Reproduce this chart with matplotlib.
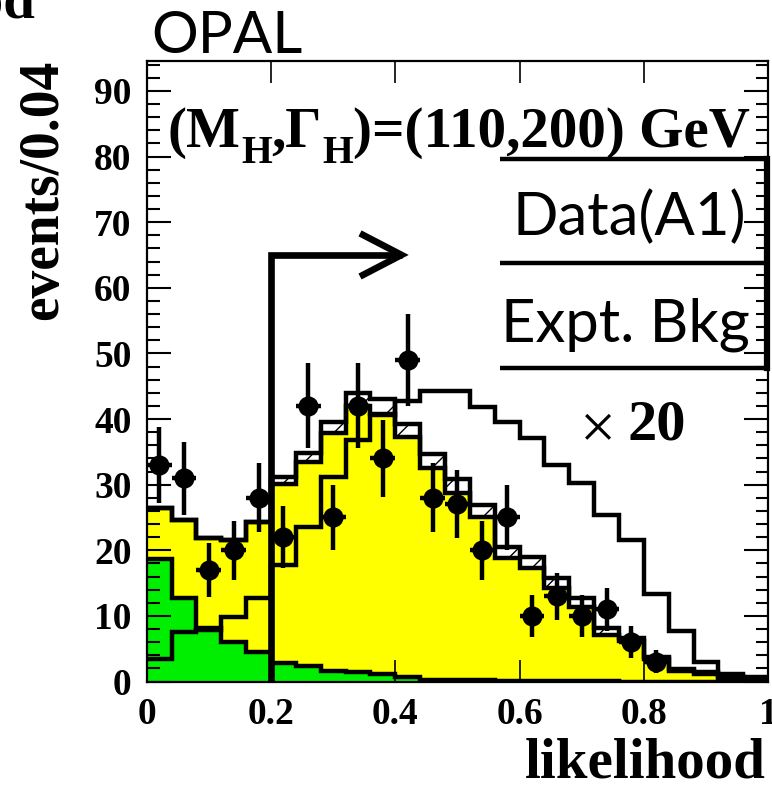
import numpy as np
import matplotlib
matplotlib.use('Agg')
import matplotlib.pyplot as plt
from matplotlib.ticker import MultipleLocator

# histogram binning (likelihood, 25 bins of 0.04)
edges = np.linspace(0.0, 1.0, 26)

# background components (events / 0.04), stacked bottom to top
green = np.array([18.7, 12.7, 8.2, 6.0, 4.5, 2.8, 2.3, 1.6, 1.5, 1.2, 0.7, 0.3, 0.2,
                  0.2, 0.1, 0.1, 0.1, 0.1, 0.1, 0.0, 0.0, 0.0, 0.0, 0.0, 0.0])
yellow = np.array([7.8, 11.9, 13.6, 15.6, 19.8, 27.3, 31.2, 36.3, 40.5, 39.6, 36.5, 32.3, 28.5,
                   24.8, 18.7, 17.2, 14.1, 11.2, 7.0, 6.1, 3.4, 1.6, 1.2, 0.6, 0.4])
hatched = np.array([0.0, 0.0, 0.0, 0.0, 0.0, 1.0, 1.3, 1.7, 2.0, 2.3, 2.0, 2.0, 2.1,
                    1.9, 1.7, 1.7, 1.5, 1.4, 1.0, 0.5, 0.4, 0.3, 0.3, 0.3, 0.2])

# signal (MH, GammaH) = (110, 200) GeV, scaled x20
signal_x20 = np.array([3.5, 7.5, 7.8, 9.8, 12.8, 17.8, 23.5, 31.2, 36.8, 40.6, 42.7, 44.2, 44.2,
                       41.9, 39.6, 37.1, 33.0, 30.2, 25.4, 21.6, 13.4, 7.7, 2.9, 1.1, 0.7])

# observed data (A1)
data = np.array([33, 31, 17, 20, 28, 22, 42, 25, 42, 34, 49, 28, 27,
                 20, 25, 10, 13, 10, 11, 6, 3, 0, 0, 0, 0])

# cut on the likelihood, arrow
cut = 0.2
arrow_y = 65
arrow_end = 0.41

x_ticks = [0, 0.2, 0.4, 0.6, 0.8, 1]
x_ticklabels = ['0', '0.2', '0.4', '0.6', '0.8', '1']

plt.rcParams['font.family'] = ['Liberation Serif', 'DejaVu Serif']
plt.rcParams['font.weight'] = 'bold'
plt.rcParams['hatch.linewidth'] = 1.0

W, H = 772, 787
fig = plt.figure(figsize=(W / 100, H / 100), dpi=100)
ax = fig.add_axes([146.7 / W, 1 - 681.5 / H, 621.5 / W, 620.8 / H])

yg = green
yy = green + yellow
yt = green + yellow + hatched
centers = 0.5 * (edges[:-1] + edges[1:])

# filled stack
ax.stairs(yg, edges, baseline=0, fill=True, color='#00ee00', lw=0)
ax.stairs(yy, edges, baseline=yg, fill=True, color='#ffff00', lw=0)
ax.stairs(yt, edges, baseline=yy, fill=True, facecolor='white', edgecolor='black',
          hatch='/', lw=0)

# outlines
lw_h = 3.2
for top in (yg, yy, yt):
    ax.stairs(top, edges, baseline=None, color='black', lw=lw_h)
ax.stairs(signal_x20, edges, baseline=None, color='black', lw=lw_h)

# cut + arrow
ax.plot([cut, cut, arrow_end], [0, arrow_y, arrow_y], color='black', lw=4.8,
        solid_joinstyle='miter', solid_capstyle='butt')
ax.plot([arrow_end - 0.062, arrow_end, arrow_end - 0.062],
        [arrow_y + 3.05, arrow_y, arrow_y - 3.05], color='black', lw=4.8,
        solid_joinstyle='miter')

# data
m = data > 0
ax.errorbar(centers[m], data[m], yerr=np.sqrt(data[m]), xerr=0.02, fmt='o',
            color='black', ms=13.5, elinewidth=3.2, capsize=0, zorder=6)

ax.set_xlim(0, 1)
ax.set_ylim(0, 94.6)
ax.set_xticks(x_ticks)
ax.set_xticklabels(x_ticklabels)
ax.yaxis.set_major_locator(MultipleLocator(10))
ax.yaxis.set_minor_locator(MultipleLocator(2))
ax.tick_params(which='both', direction='in', top=True, right=True,
               labelsize=27)
ax.tick_params(axis='y', which='major', length=17, width=1.5, pad=11)
ax.tick_params(axis='y', which='minor', length=9, width=1.5)
ax.tick_params(axis='x', which='major', length=16, width=1.2, pad=11)
for s in ax.spines.values():
    s.set_linewidth(1.6)
    s.set_zorder(10)

# legend box
lx0 = (500 - 146.7) / 621.5
for yl in (0.8417, 0.6741, 0.5050):
    ax.plot([lx0, 1.0], [yl, yl], transform=ax.transAxes, clip_on=False,
            color='black', lw=3.2, solid_capstyle='butt')
ax.plot([0.998, 0.998], [0.5050, 0.8417], transform=ax.transAxes, clip_on=False,
        color='black', lw=4.5)

sans = ['Lato', 'DejaVu Sans']
fig.text(746 / W, 1 - 235 / H, 'Data(A1)', family=sans, weight='normal',
         fontsize=43, ha='right', va='baseline')
fig.text(750 / W, 1 - 342 / H, 'Expt. Bkg', family=sans, weight='normal',
         fontsize=43, ha='right', va='baseline')
fig.text(598 / W, 1 - 432 / H, '\u00d7', weight='normal', fontsize=46,
         ha='center', va='center')
fig.text(627 / W, 1 - 440 / H, '20', fontsize=42, ha='left', va='baseline')

# labels
fig.text(151 / W, 1 - 53 / H, 'OPAL', family=sans, weight='normal', fontsize=42,
         ha='left', va='baseline')

# title with lowered subscripts, built piece by piece
renderer = fig.canvas.get_renderer()
title_parts = [('(M', 0, 41), ('H', 16, 28.5), (',\u0393', 0, 41), ('H', 16, 28.5),
               (')=(110,200) GeV', 0, 41)]
xpos = 168
for txt, drop, size in title_parts:
    t = fig.text(xpos / W, 1 - (147 + drop) / H, txt, fontsize=size,
                 ha='left', va='baseline')
    xpos += t.get_window_extent(renderer).width

fig.text(43 / W, 1 - 60 / H, 'events/0.04', fontsize=40, rotation=90,
         ha='center', va='top')
fig.text(766 / W, 1 - 778 / H, 'likelihood', fontsize=41, ha='right', va='baseline')
# x label of the neighbouring panel, cut by the frame
fig.text(36 / W, 1 - 17 / H, 'likelihood', fontsize=41, ha='right', va='baseline')

fig.savefig('out.png', dpi=100)
